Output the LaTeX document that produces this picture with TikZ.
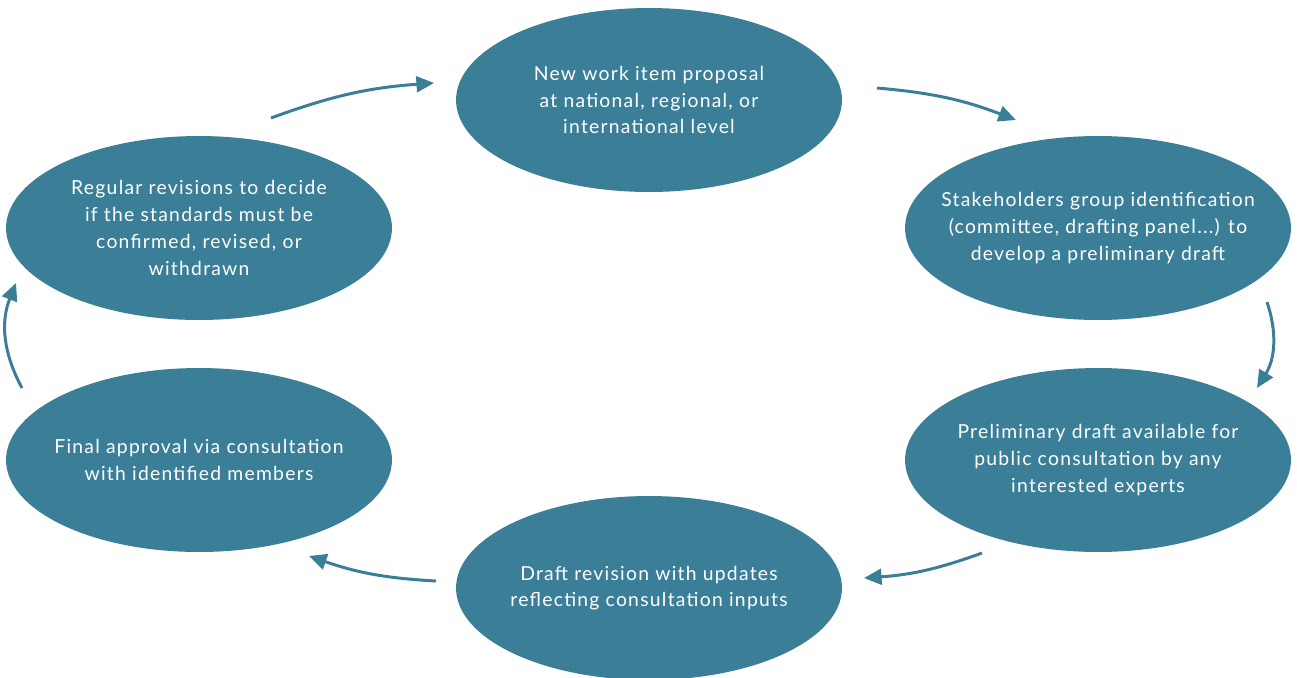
\documentclass[tikz,border=0pt]{standalone}
\usepackage{fontspec}
\setmainfont[LetterSpace=6.5]{Lato}
\usetikzlibrary{arrows.meta,shapes.geometric}
\definecolor{teal}{RGB}{58,127,151}
\begin{document}
\begin{tikzpicture}[x=0.02cm, y=-0.02cm]
		% Styles
		\tikzstyle{stage}=[ellipse,fill=teal,text=white,minimum width=7.72cm,minimum height=3.68cm,inner xsep=-40pt,inner ysep=0pt,align=center,font=\fontsize{11}{15.2}\selectfont]
		\tikzstyle{flow}=[draw=teal,line width=1.7pt,-{Triangle[length=10pt,width=9pt]}]
		\useasboundingbox (0,0) rectangle (1297,677);

		% Stages of the cycle
		\node[stage] (proposal) at (649,100) {New work item proposal\\at national, regional, or\\international level};
		\node[stage] (group) at (1098,228) {Stakeholders group identification\\(committee, drafting panel...) to\\develop a preliminary draft};
		\node[stage] (public) at (1098,460) {Preliminary draft available for\\public consultation by any\\interested experts};
		\node[stage] (revision) at (649,588) {Draft revision with updates\\reflecting consultation inputs};
		\node[stage] (approval) at (199,460) {Final approval via consultation\\with identified members};
		\node[stage] (regular) at (199,228) {Regular revisions to decide\\if the standards must be\\confirmed, revised, or\\withdrawn};

		% Arrow ends
		\foreach \name/\x/\y in {a/271/118, b/434/83, c/877/88, d/1016/120, e/1267/302, f/1257/388,
		                         g/982/553, h/864/578, i/436/581, j/309/556, k/22/388, l/16/283}
		\coordinate (\name) at (\x,\y);

		% Arrows
		\foreach \source/\dest/\b in {a/b/8, c/d/8, e/f/25, g/h/8, i/j/8, k/l/25}
		\path[flow] (\source) to[bend left=\b] (\dest);
	\end{tikzpicture}
\end{document}
